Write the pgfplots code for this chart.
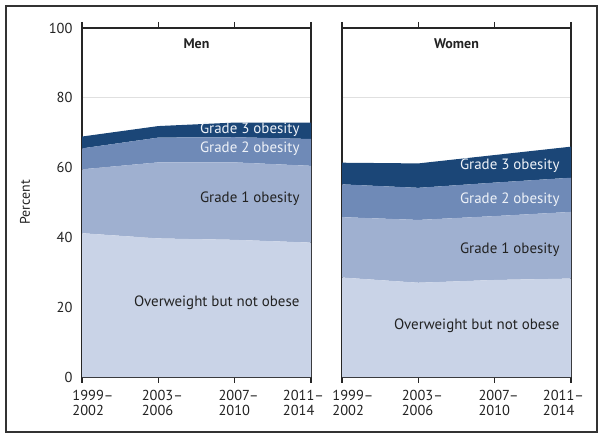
\documentclass[border=0pt]{standalone}
\usepackage{pgfplots}
\pgfplotsset{compat=1.18}
\usepackage{fontspec}
\setmainfont{PT Sans}
\definecolor{ow}{HTML}{C9D3E7}
\definecolor{gone}{HTML}{9FB0D0}
\definecolor{gtwo}{HTML}{6F8AB7}
\definecolor{gthree}{HTML}{1B4677}
\definecolor{lbl}{HTML}{EEF2F8}
\definecolor{txt}{HTML}{222222}
\pgfplotsset{
  panel/.style={
    scale only axis,
    width=229bp, height=349bp,
    anchor=south west,
    xmin=0, xmax=3, ymin=0, ymax=100,
    xtick={0,1,2,3},
    xticklabels={{\hspace*{22bp}1999–\\\hspace*{22bp}2002},{\hspace*{8bp}2003–\\\hspace*{8bp}2006},{\hspace*{8bp}2007–\\\hspace*{8bp}2010},{2011–\hspace*{15bp}\\2014}},
    xticklabel style={align=left, font=\fontsize{14.5}{15}\selectfont, text=txt, yshift=-4bp},
    ytick={0,20,40,60,80,100},
    yticklabel style={font=\fontsize{14.5}{15}\selectfont, text=txt},
    /pgf/number format/assume math mode=true,
    tick align=outside,
    xtick style={line width=1.1bp, draw=black!85},
    major tick length=6bp,
    ytick style={draw=none},
    ymajorgrids, grid style={black!12, line width=0.8bp},
    axis line style={line width=1.2bp, draw=black!85},
    stack plots=y,
    clip=false,
  },
}
\tikzset{lab/.style={anchor=east, font=\fontsize{15}{16}\selectfont}}
\begin{document}
\begin{tikzpicture}
\useasboundingbox (0,0) rectangle (604bp,439bp);
\draw[line width=1.2bp, black!80] (6bp,7bp) rectangle (597bp,433bp);
\begin{axis}[panel, at={(82bp,62bp)},
  ylabel={Percent}, ylabel style={font=\fontsize{14}{15}\selectfont, text=txt, yshift=12bp}]
\addplot[fill=ow, draw=none] coordinates {(0,41.2) (1,39.7) (2,39.3) (3,38.5)} \closedcycle;
\addplot[fill=gone, draw=none] coordinates {(0,18.3) (1,21.8) (2,22.2) (3,22.0)} \closedcycle;
\addplot[fill=gtwo, draw=none] coordinates {(0,6.0) (1,7.1) (2,7.2) (3,7.7)} \closedcycle;
\addplot[fill=gthree, draw=none] coordinates {(0,3.4) (1,3.3) (2,4.2) (3,4.7)} \closedcycle;
\coordinate (mT) at (rel axis cs:0.5,0.954);
\coordinate (m3) at (rel axis cs:0.965,0.708);
\coordinate (m2) at (rel axis cs:0.965,0.655);
\coordinate (m1) at (rel axis cs:0.965,0.512);
\coordinate (m0) at (rel axis cs:0.965,0.214);
\end{axis}
\begin{axis}[panel, at={(342bp,62bp)}, yticklabels={}]
\addplot[fill=ow, draw=none] coordinates {(0,28.5) (1,27.0) (2,27.8) (3,28.2)} \closedcycle;
\addplot[fill=gone, draw=none] coordinates {(0,17.3) (1,18.0) (2,18.3) (3,19.1)} \closedcycle;
\addplot[fill=gtwo, draw=none] coordinates {(0,9.4) (1,9.2) (2,9.6) (3,9.8)} \closedcycle;
\addplot[fill=gthree, draw=none] coordinates {(0,6.2) (1,7.0) (2,7.9) (3,8.9)} \closedcycle;
\coordinate (wT) at (rel axis cs:0.5,0.954);
\coordinate (w3) at (rel axis cs:0.965,0.605);
\coordinate (w2) at (rel axis cs:0.965,0.509);
\coordinate (w1) at (rel axis cs:0.965,0.364);
\coordinate (w0) at (rel axis cs:0.965,0.146);
\end{axis}
\node[font=\bfseries\fontsize{14}{15}\selectfont, text=txt] at (mT) {Men};
\node[lab, text=lbl] at (m3) {Grade 3 obesity};
\node[lab, text=lbl] at (m2) {Grade 2 obesity};
\node[lab, text=txt] at (m1) {Grade 1 obesity};
\node[lab, text=txt] at (m0) {Overweight but not obese};
\node[font=\bfseries\fontsize{14}{15}\selectfont, text=txt] at (wT) {Women};
\node[lab, text=lbl] at (w3) {Grade 3 obesity};
\node[lab, text=lbl] at (w2) {Grade 2 obesity};
\node[lab, text=txt] at (w1) {Grade 1 obesity};
\node[lab, text=txt] at (w0) {Overweight but not obese};
\end{tikzpicture}
\end{document}
